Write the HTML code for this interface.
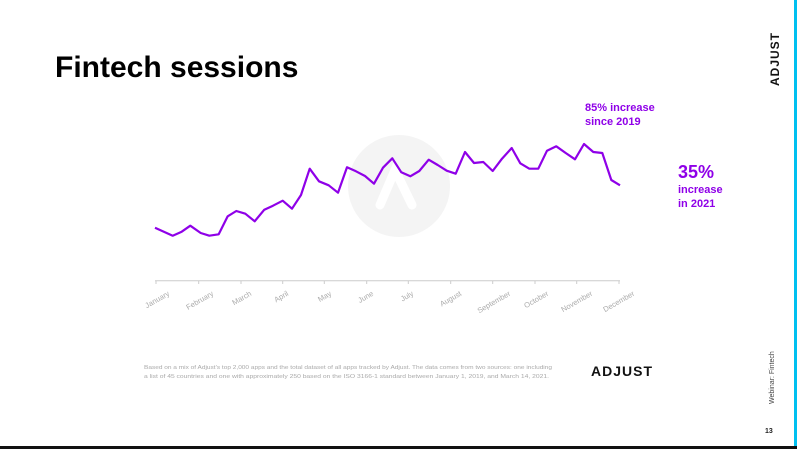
<!DOCTYPE html>
<html><head><meta charset="utf-8"><style>
body{margin:0;background:#fff;}
#c{position:relative;width:797px;height:449px;overflow:hidden;background:#fff;font-family:"Liberation Sans",sans-serif;}
</style></head><body><div id="c">
<svg width="797" height="449" viewBox="0 0 797 449" style="position:absolute;left:0;top:0">
<rect x="794" y="0" width="3" height="449" fill="#00c0f0"/>
<rect x="0" y="446" width="797" height="3" fill="#111"/>
<text x="55" y="77" font-size="30" font-weight="bold" fill="#000">Fintech sessions</text>
<text transform="translate(779,86) rotate(-90)" font-size="12" font-weight="bold" fill="#111" letter-spacing="1">ADJUST</text>
<circle cx="399" cy="186" r="51" fill="#f4f4f4"/>
<path d="M380 205 L395 170 L412 205" stroke="#fff" stroke-width="9" fill="none" stroke-linecap="round"/>
<polyline fill="none" stroke="#8f00e8" stroke-width="2.2" stroke-linejoin="round" points="155,227.7 172.7,235.7 181.7,231.7 190.3,225.7 200.7,233 209.3,235.7 218.7,234.3 227.7,216.3 236.3,211 245.3,213.7 254.7,221.3 264.3,209.7 273,205.7 282.7,200.7 292,208.7 301,195 309.7,168.7 319,181.3 328.7,185.3 338,192.7 347,167.3 356,171.3 365,176 374,183.7 383,167.7 392.3,158.3 401.3,172.3 410.3,176.3 419.3,171 428.7,159.7 437.7,165 446.7,170.7 455.7,173.7 465,152 474,163 483.3,162 492.7,171 502,158.7 511.7,148 520.3,163.3 529.3,168.7 538.3,168.7 547,150.7 556.3,146.3 565.7,153 575,159.3 584,144 593.3,152 602.3,153 611.3,180 620,185.3"/>
<line x1="155" y1="280.7" x2="620" y2="280.7" stroke="#ccc" stroke-width="1"/>
<g stroke="#ccc" stroke-width="1">
<line x1="156" y1="281" x2="156" y2="284"/><line x1="198.7" y1="281" x2="198.7" y2="284"/><line x1="241" y1="281" x2="241" y2="284"/><line x1="282.7" y1="281" x2="282.7" y2="284"/><line x1="324.3" y1="281" x2="324.3" y2="284"/><line x1="366.7" y1="281" x2="366.7" y2="284"/><line x1="408.3" y1="281" x2="408.3" y2="284"/><line x1="450.7" y1="281" x2="450.7" y2="284"/><line x1="492.7" y1="281" x2="492.7" y2="284"/><line x1="535" y1="281" x2="535" y2="284"/><line x1="576.7" y1="281" x2="576.7" y2="284"/><line x1="619" y1="281" x2="619" y2="284"/>
</g>
<g font-size="7.5" fill="#aaa" text-anchor="end">
<text transform="translate(170,295) rotate(-30)">January</text>
<text transform="translate(214,295) rotate(-30)">February</text>
<text transform="translate(252,295) rotate(-30)">March</text>
<text transform="translate(289,295) rotate(-30)">April</text>
<text transform="translate(332,295) rotate(-30)">May</text>
<text transform="translate(374,295) rotate(-30)">June</text>
<text transform="translate(414,295) rotate(-30)">July</text>
<text transform="translate(462,295) rotate(-30)">August</text>
<text transform="translate(511,295) rotate(-30)">September</text>
<text transform="translate(549,295) rotate(-30)">October</text>
<text transform="translate(593,295) rotate(-30)">November</text>
<text transform="translate(635,295) rotate(-30)">December</text>
</g>
<text x="585" y="111" font-size="11" font-weight="bold" fill="#8f00e8">85% increase</text>
<text x="585" y="125" font-size="11" font-weight="bold" fill="#8f00e8">since 2019</text>
<text x="678" y="178" font-size="18" font-weight="bold" fill="#8f00e8">35%</text>
<text x="678" y="193" font-size="11" font-weight="bold" fill="#8f00e8">increase</text>
<text x="678" y="207" font-size="11" font-weight="bold" fill="#8f00e8">in 2021</text>
<text x="144" y="369" font-size="5.3" fill="#aaa" textLength="408" lengthAdjust="spacingAndGlyphs">Based on a mix of Adjust's top 2,000 apps and the total dataset of all apps tracked by Adjust. The data comes from two sources: one including</text>
<text x="144" y="378" font-size="5.3" fill="#aaa" textLength="405" lengthAdjust="spacingAndGlyphs">a list of 45 countries and one with approximately 250 based on the ISO 3166-1 standard between January 1, 2019, and March 14, 2021.</text>
<text x="591" y="376" font-size="14" font-weight="bold" fill="#111" letter-spacing="1">ADJUST</text>
<text transform="translate(774,404) rotate(-90)" font-size="7" fill="#444">Webinar: Fintech</text>
<text x="765" y="433" font-size="7" font-weight="bold" fill="#222">13</text>
</svg>
</div></body></html>
